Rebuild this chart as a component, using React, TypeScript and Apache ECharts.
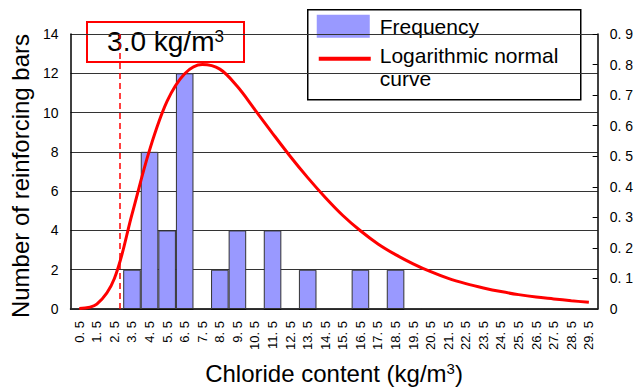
import React, { useEffect, useRef } from 'react';
import * as echarts from 'echarts';

const categories = [
  '0.5', '1.5', '2.5', '3.5', '4.5', '5.5', '6.5', '7.5', '8.5', '9.5',
  '10.5', '11.5', '12.5', '13.5', '14.5', '15.5', '16.5', '17.5', '18.5', '19.5',
  '20.5', '21.5', '22.5', '23.5', '24.5', '25.5', '26.5', '27.5', '28.5', '29.5',
];

const frequency = [
  0, 0, 0, 2, 8, 4, 12, 0, 2, 4,
  0, 4, 0, 2, 0, 0, 2, 0, 2, 0,
  0, 0, 0, 0, 0, 0, 0, 0, 0, 0,
];

const lognormalCurve = [
  0.002, 0.016, 0.1, 0.31, 0.52, 0.68, 0.77, 0.8, 0.785, 0.728,
  0.652, 0.575, 0.5, 0.43, 0.365, 0.306, 0.256, 0.213, 0.178, 0.148,
  0.122, 0.1, 0.083, 0.069, 0.057, 0.047, 0.039, 0.033, 0.027, 0.022,
];

const legendNames = ['Frequency', 'Logarithmic normal\ncurve'];
const thresholdText = '3.0 kg/m{sup|3}';
const thresholdPosition = 2.8;

const FONT = 'Liberation Sans, Arial, Helvetica, sans-serif';
const BAR_COLOR = '#9999FF';
const CURVE_COLOR = '#FF0000';

export default function App() {
  const ref = useRef<HTMLDivElement>(null);

  useEffect(() => {
    document.body.style.margin = '0';
    const chart = echarts.init(ref.current!, null, { renderer: 'svg' });
    chart.setOption({
      animation: false,
      backgroundColor: '#fff',
      textStyle: { fontFamily: FONT, color: '#000' },
      grid: { left: 66, right: 36, top: 34, bottom: 80, containLabel: false },
      xAxis: [
        {
          type: 'category',
          data: categories,
          boundaryGap: true,
          axisLine: { lineStyle: { color: '#000', width: 1.5 } },
          axisTick: { inside: true, length: 4, lineStyle: { color: '#000' } },
          axisLabel: {
            rotate: 90,
            interval: 0,
            fontSize: 13,
            color: '#000',
            margin: 12,
            formatter: (v: string) => v.replace('.', '. '),
          },
          name: 'Chloride content (kg/m{sup|3})',
          nameLocation: 'middle',
          nameGap: 52,
          nameTextStyle: {
            fontSize: 24,
            color: '#000',
            fontFamily: FONT,
            rich: { sup: { fontSize: 15, verticalAlign: 'top', color: '#000', fontFamily: FONT } },
          },
        },
        { type: 'value', min: 0, max: 30, show: false },
      ],
      yAxis: [
        {
          type: 'value',
          min: 0,
          max: 14,
          interval: 2,
          axisLine: { show: true, lineStyle: { color: '#000', width: 1.5 } },
          axisTick: { show: false },
          axisLabel: { fontSize: 14, color: '#000', margin: 12 },
          splitLine: { lineStyle: { color: '#333', width: 1 } },
          name: 'Number of reinforcing bars',
          nameLocation: 'middle',
          nameGap: 27,
          nameTextStyle: { fontSize: 24, color: '#000', fontFamily: FONT, padding: [0, 9, 0, 0] },
        },
        {
          type: 'value',
          position: 'right',
          min: 0,
          max: 0.9,
          interval: 0.1,
          axisLine: { show: true, lineStyle: { color: '#000', width: 1.5 } },
          axisTick: { show: true, inside: true, length: 5, lineStyle: { color: '#000' } },
          axisLabel: {
            fontSize: 14,
            color: '#000',
            margin: 12,
            formatter: (v: number) => (v === 0 ? '0' : v.toFixed(1).replace('.', '. ')),
          },
          splitLine: { show: false },
        },
      ],
      series: [
        {
          name: 'Frequency',
          type: 'bar',
          data: frequency,
          barCategoryGap: '0%',
          itemStyle: { color: BAR_COLOR, borderColor: '#333', borderWidth: 1 },
        },
        {
          name: 'Logarithmic normal curve',
          type: 'line',
          yAxisIndex: 1,
          data: lognormalCurve,
          smooth: 0.35,
          symbol: 'none',
          lineStyle: { color: CURVE_COLOR, width: 3 },
          itemStyle: { color: CURVE_COLOR },
          z: 5,
        },
        {
          name: 'threshold',
          type: 'line',
          xAxisIndex: 1,
          yAxisIndex: 0,
          data: [],
          markLine: {
            silent: true,
            symbol: ['none', 'none'],
            label: { show: false },
            lineStyle: { color: CURVE_COLOR, type: [6, 4], width: 1.5 },
            data: [{ xAxis: thresholdPosition }],
          },
        },
      ],
      graphic: [
        {
          type: 'group',
          left: 86,
          top: 21,
          z: 100,
          children: [
            {
              type: 'rect',
              shape: { x: 0, y: 0, width: 157, height: 40 },
              style: { fill: '#fff', stroke: CURVE_COLOR, lineWidth: 2 },
            },
            {
              type: 'text',
              x: 78.5,
              y: 19.5,
              style: {
                text: thresholdText,
                fontSize: 28,
                fontFamily: FONT,
                fill: '#000',
                align: 'center',
                verticalAlign: 'middle',
                rich: { sup: { fontSize: 17, verticalAlign: 'top', fill: '#000', fontFamily: FONT } },
              },
            },
          ],
        },
        {
          type: 'group',
          left: 307,
          top: 9,
          z: 100,
          children: [
            {
              type: 'rect',
              shape: { x: 0, y: 0, width: 273, height: 90 },
              style: { fill: '#fff', stroke: '#000', lineWidth: 1.5 },
            },
            {
              type: 'rect',
              shape: { x: 9, y: 5, width: 53, height: 23 },
              style: { fill: BAR_COLOR },
            },
            {
              type: 'text',
              x: 72,
              y: 17,
              style: {
                text: legendNames[0],
                fontSize: 21,
                fontFamily: FONT,
                fill: '#000',
                align: 'left',
                verticalAlign: 'middle',
              },
            },
            {
              type: 'line',
              shape: { x1: 11, y1: 49, x2: 63, y2: 49 },
              style: { stroke: CURVE_COLOR, lineWidth: 4 },
            },
            {
              type: 'text',
              x: 72,
              y: 34,
              style: {
                text: legendNames[1],
                fontSize: 21,
                lineHeight: 23,
                fontFamily: FONT,
                fill: '#000',
                align: 'left',
                verticalAlign: 'top',
              },
            },
          ],
        },
      ],
    });
    return () => chart.dispose();
  }, []);

  return <div ref={ref} style={{ position: 'absolute', left: 0, top: 0, width: 636, height: 390 }} />;
}
